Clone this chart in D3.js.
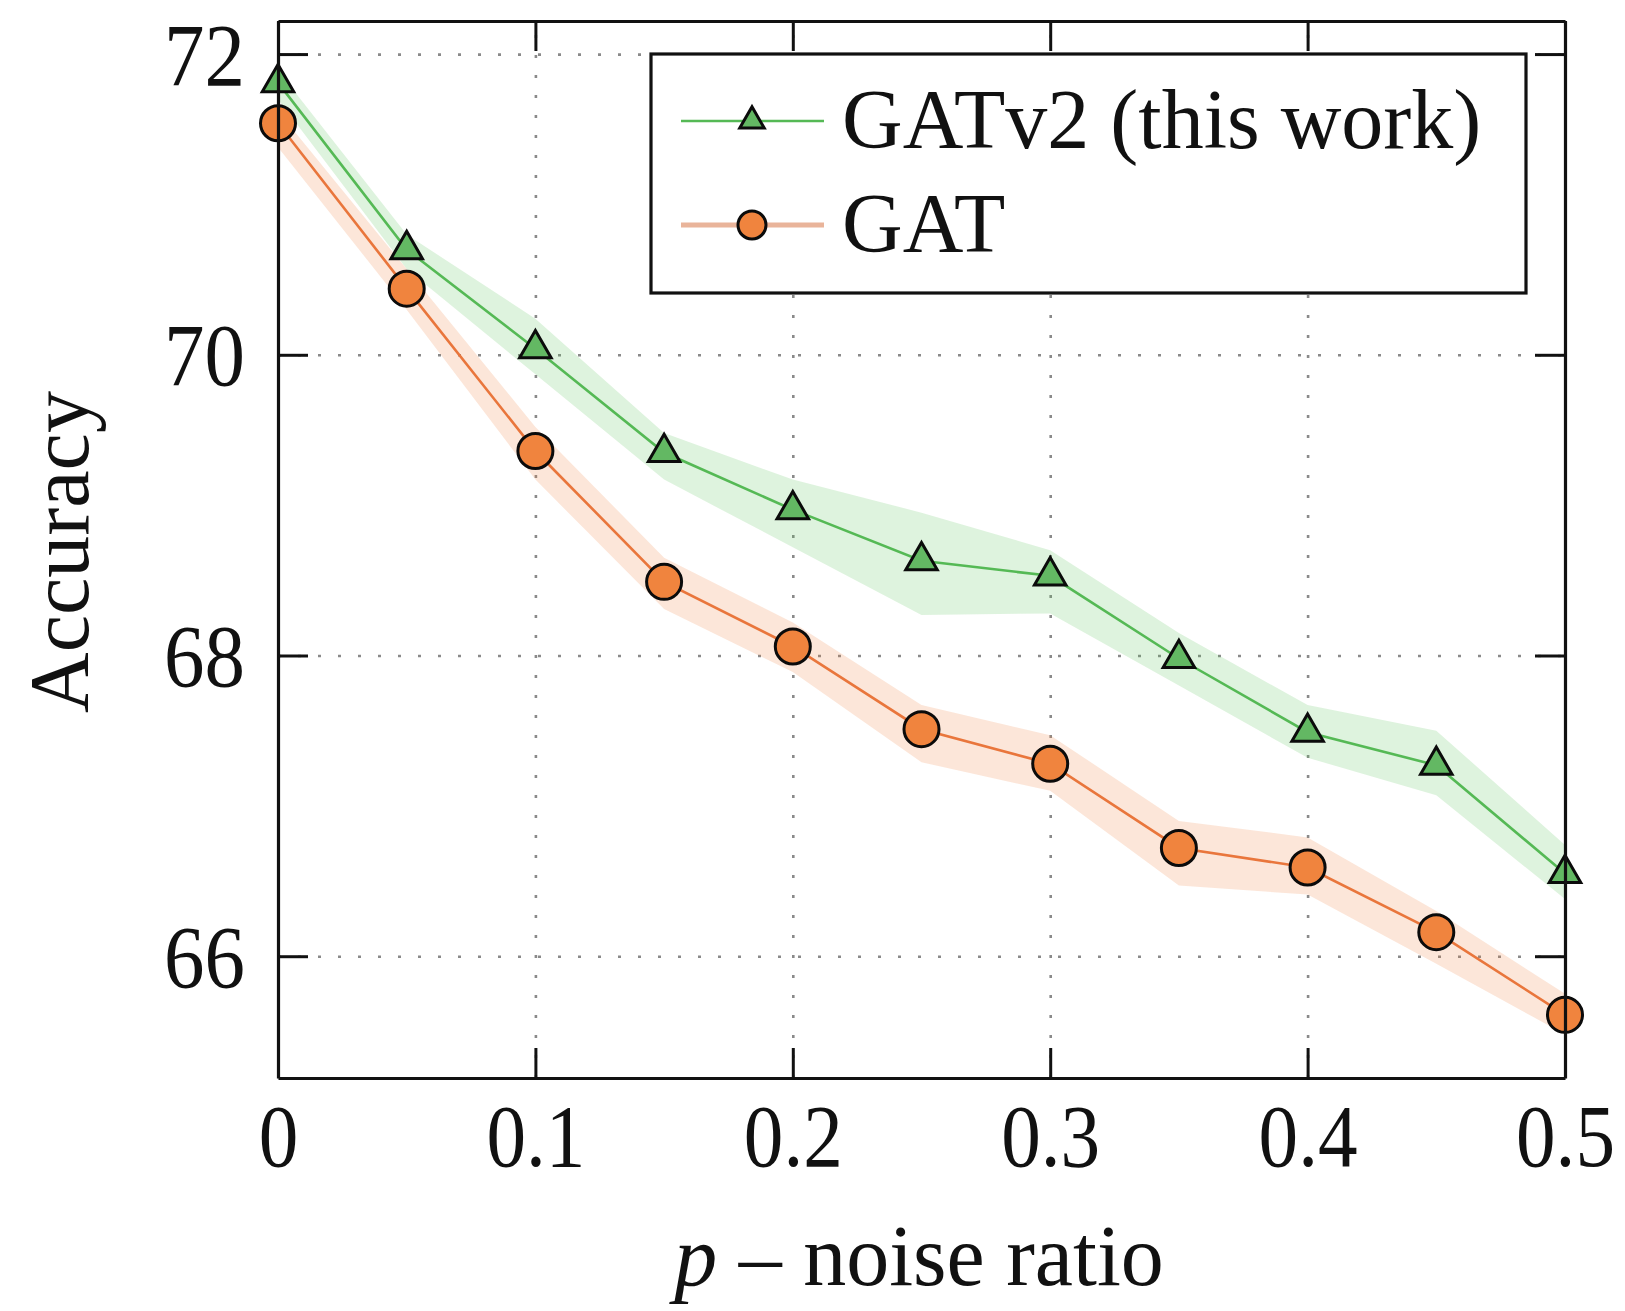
<!DOCTYPE html>
<html>
<head>
<meta charset="utf-8">
<script src="https://cdn.jsdelivr.net/npm/d3@7"></script>
<style>
  html, body { margin: 0; padding: 0; background: #ffffff; }
  svg { display: block; }
  text { font-family: "Liberation Serif", "DejaVu Serif", serif; fill: #111; }
</style>
</head>
<body>
<svg id="chart" width="1625" height="1311"></svg>
<script>
// ---- data ----
const noiseRatio = [0, 0.05, 0.10, 0.15, 0.20, 0.25, 0.30, 0.35, 0.40, 0.45, 0.50];
const gatv2Mean  = [71.81, 70.70, 70.04, 69.35, 68.97, 68.63, 68.53, 67.98, 67.49, 67.27, 66.55];
const gatv2Upper = [71.89, 70.80, 70.24, 69.48, 69.17, 68.95, 68.70, 68.15, 67.67, 67.50, 66.74];
const gatv2Lower = [71.70, 70.57, 69.87, 69.17, 68.72, 68.27, 68.28, 67.80, 67.32, 67.07, 66.38];
const gatMean    = [71.54, 70.44, 69.36, 68.49, 68.06, 67.51, 67.28, 66.72, 66.59, 66.16, 65.61];
const gatUpper   = [71.62, 70.57, 69.52, 68.65, 68.22, 67.67, 67.47, 66.90, 66.79, 66.30, 65.75];
const gatLower   = [71.38, 70.30, 69.17, 68.31, 67.89, 67.29, 67.10, 66.47, 66.41, 65.95, 65.48];
const xTickValues = [0, 0.1, 0.2, 0.3, 0.4, 0.5];
const xTickLabels = ["0", "0.1", "0.2", "0.3", "0.4", "0.5"];
const yTickValues = [66, 68, 70, 72];
const yTickLabels = ["66", "68", "70", "72"];
const seriesNames = ["GATv2 (this work)", "GAT"];
const xTitleItalic = "p";
const xTitleRest = " \u2013 noise ratio";
const yTitle = "Accuracy";

// ---- layout ----
const L = 278, R = 1565, T = 21, B = 1078;
const svg = d3.select("#chart");

const x = d3.scaleLinear().domain([0, 0.5]).range([L, R]);
const y = d3.scaleLinear().domain([65.19, 72.22]).range([B, T]);

const colors = {
  gatv2Line: "#55b955", gatv2Fill: "#63b863", gatv2Band: "#5cc25c",
  gatLine: "#e9763c", gatFill: "#f0843e", gatBand: "#f08040", gatLegendLine: "#e9b49a"
};

// ---- grid ----
const gridStyle = g => {
  g.select(".domain").remove();
  g.selectAll("line").attr("stroke", "#8a8a8a").attr("stroke-width", 2.6)
    .attr("stroke-dasharray", "3,17");
};
svg.append("g").attr("transform", `translate(0,${B})`)
  .call(d3.axisBottom(x).tickValues(xTickValues.filter(v => v > 0 && v < 0.5))
    .tickSize(-(B - T)).tickFormat(""))
  .call(gridStyle);
svg.append("g").attr("transform", `translate(${L},0)`)
  .call(d3.axisLeft(y).tickValues(yTickValues).tickSize(-(R - L)).tickFormat(""))
  .call(gridStyle);

// ---- bands ----
const idx = d3.range(noiseRatio.length);
const area = (lo, hi) => d3.area().x(i => x(noiseRatio[i])).y0(i => y(lo[i])).y1(i => y(hi[i]));
svg.append("path").attr("d", area(gatLower, gatUpper)(idx))
  .attr("fill", colors.gatBand).attr("fill-opacity", 0.2);
svg.append("path").attr("d", area(gatv2Lower, gatv2Upper)(idx))
  .attr("fill", colors.gatv2Band).attr("fill-opacity", 0.2);

// ---- lines ----
const line = vals => d3.line().x(i => x(noiseRatio[i])).y(i => y(vals[i]));
svg.append("path").attr("d", line(gatMean)(idx)).attr("fill", "none")
  .attr("stroke", colors.gatLine).attr("stroke-width", 2.6);
svg.append("path").attr("d", line(gatv2Mean)(idx)).attr("fill", "none")
  .attr("stroke", colors.gatv2Line).attr("stroke-width", 2.6);

// ---- markers ----
const tri = d3.symbol().type(d3.symbolTriangle).size(430);
svg.append("g").selectAll("path").data(idx).join("path")
  .attr("d", tri)
  .attr("transform", i => `translate(${x(noiseRatio[i])},${y(gatv2Mean[i])})`)
  .attr("fill", colors.gatv2Fill).attr("stroke", "#0b0b0b").attr("stroke-width", 3);
svg.append("g").selectAll("circle").data(idx).join("circle")
  .attr("cx", i => x(noiseRatio[i])).attr("cy", i => y(gatMean[i])).attr("r", 17.5)
  .attr("fill", colors.gatFill).attr("stroke", "#0b0b0b").attr("stroke-width", 3);

// ---- axes (ticks inside, box frame) ----
const frameStyle = g => {
  g.select(".domain").attr("stroke", "#111").attr("stroke-width", 3.2);
  g.selectAll(".tick line").attr("stroke", "#111").attr("stroke-width", 3);
};
const xAxisG = svg.append("g").attr("transform", `translate(0,${B})`)
  .call(d3.axisBottom(x).tickValues(xTickValues).tickFormat((d, i) => xTickLabels[i])
    .tickSizeInner(-30).tickSizeOuter(0))
  .call(frameStyle);
xAxisG.selectAll(".tick text").attr("y", 88).attr("dy", null)
  .attr("font-size", 88).attr("font-family", "Liberation Serif").attr("fill", "#111")
  .attr("transform", "scale(0.9,1)");
svg.append("g").attr("transform", `translate(0,${T})`)
  .call(d3.axisTop(x).tickValues(xTickValues).tickFormat("").tickSizeInner(-30).tickSizeOuter(0))
  .call(frameStyle);
const yAxisG = svg.append("g").attr("transform", `translate(${L},0)`)
  .call(d3.axisLeft(y).tickValues(yTickValues).tickFormat((d, i) => yTickLabels[i])
    .tickSizeInner(-30).tickSizeOuter(0))
  .call(frameStyle);
yAxisG.selectAll(".tick text").attr("x", -36).attr("dy", "0.34em")
  .attr("font-size", 88).attr("font-family", "Liberation Serif").attr("fill", "#111")
  .attr("transform", "scale(0.92,1)");
svg.append("g").attr("transform", `translate(${R},0)`)
  .call(d3.axisRight(y).tickValues(yTickValues).tickFormat("").tickSizeInner(-30).tickSizeOuter(0))
  .call(frameStyle);

// ---- axis titles ----
const xt = svg.append("text").attr("x", 919).attr("y", 1285).attr("text-anchor", "middle")
  .attr("font-size", 86);
xt.append("tspan").attr("font-style", "italic").text(xTitleItalic);
xt.append("tspan").text(xTitleRest);
svg.append("text").attr("transform", "translate(88,552) rotate(-90)")
  .attr("text-anchor", "middle").attr("font-size", 84).text(yTitle);

// ---- legend ----
const lg = svg.append("g");
lg.append("rect").attr("x", 651).attr("y", 54).attr("width", 875).attr("height", 239)
  .attr("fill", "#fff").attr("stroke", "#111").attr("stroke-width", 3.2);
const legendRows = [
  { name: seriesNames[0], cy: 121, line: colors.gatv2Line, type: "tri" },
  { name: seriesNames[1], cy: 225, line: colors.gatLegendLine, type: "circle" }
];
legendRows.forEach(r => {
  lg.append("line").attr("x1", 681).attr("x2", 824).attr("y1", r.cy).attr("y2", r.cy)
    .attr("stroke", r.line).attr("stroke-width", r.type === "tri" ? 2.6 : 5);
  if (r.type === "tri") {
    lg.append("path").attr("d", d3.symbol().type(d3.symbolTriangle).size(260)())
      .attr("transform", `translate(752,${r.cy})`)
      .attr("fill", colors.gatv2Fill).attr("stroke", "#0b0b0b").attr("stroke-width", 3);
  } else {
    lg.append("circle").attr("cx", 752).attr("cy", r.cy).attr("r", 14)
      .attr("fill", colors.gatFill).attr("stroke", "#0b0b0b").attr("stroke-width", 3);
  }
  lg.append("text").attr("x", 842).attr("y", r.cy + 27).attr("font-size", 84).text(r.name);
});
</script>
</body>
</html>
